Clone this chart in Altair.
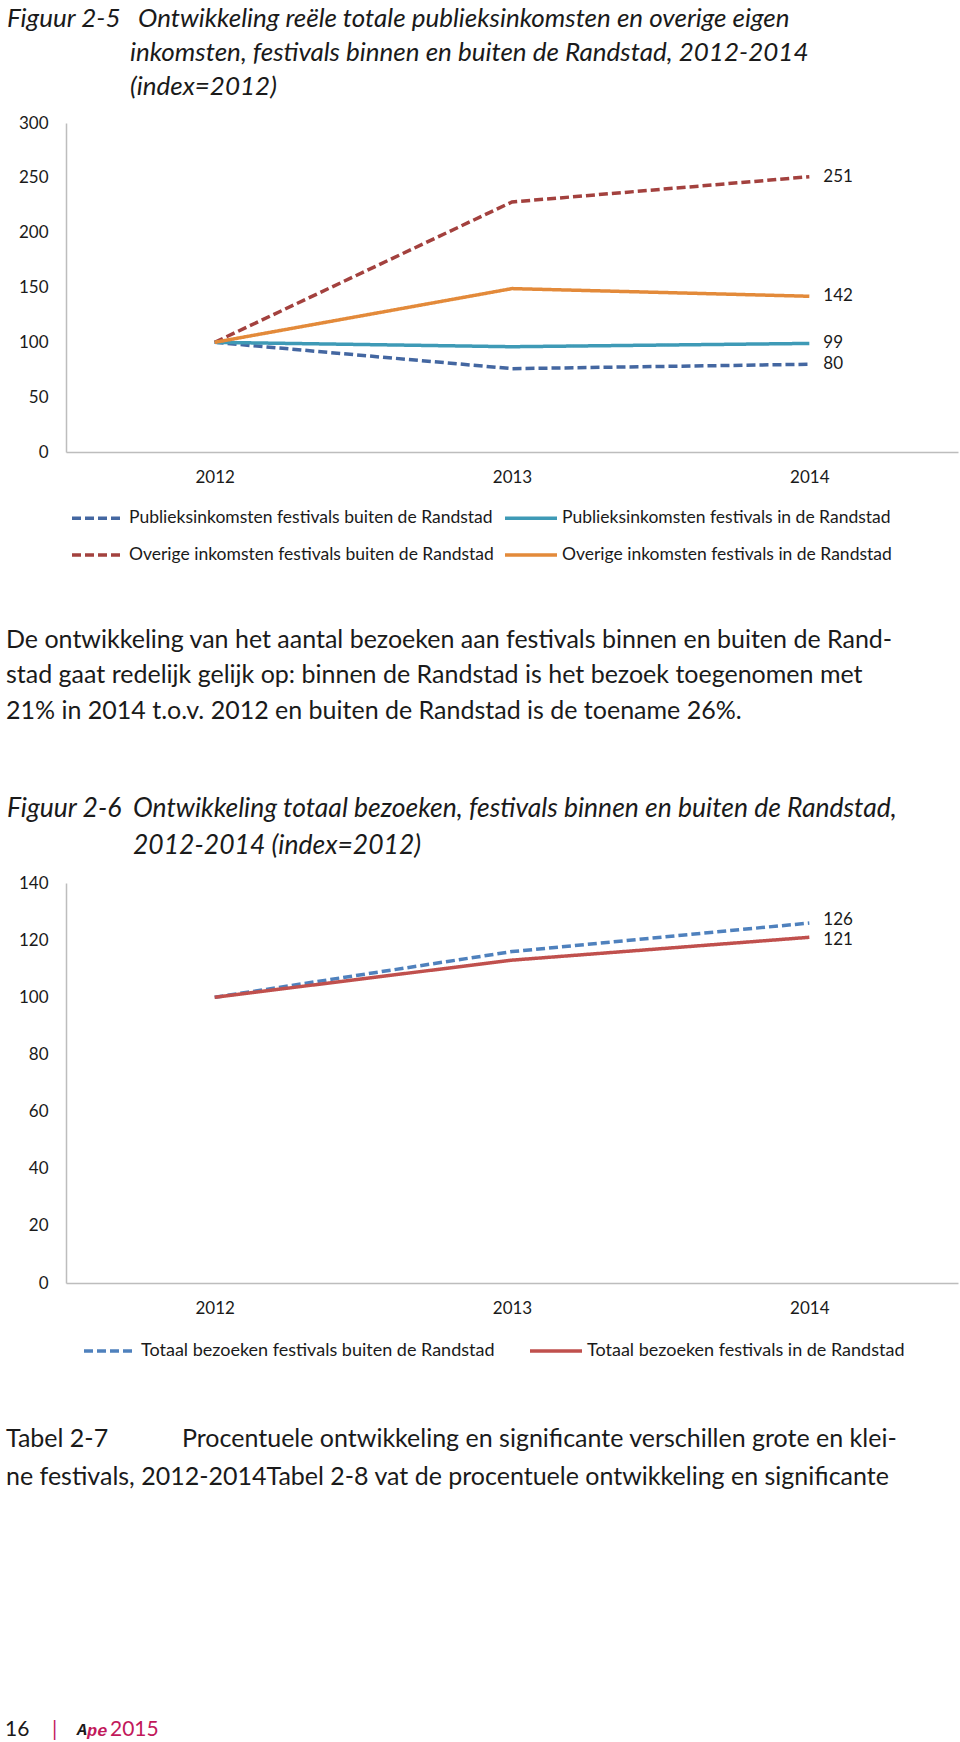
import altair as alt
import pandas as pd

# ---------------- data ----------------
years = ["2012", "2013", "2014"]

f5_series = [
    "Publieksinkomsten festivals buiten de Randstad",
    "Overige inkomsten festivals buiten de Randstad",
    "Publieksinkomsten festivals in de Randstad",
    "Overige inkomsten festivals in de Randstad",
]
f5_pub_buiten = [100, 76, 80]
f5_ov_buiten = [100, 228, 251]
f5_pub_in = [100, 96, 99]
f5_ov_in = [100, 149, 142]
f5_ticks = [0, 50, 100, 150, 200, 250, 300]

f6_series = [
    "Totaal bezoeken festivals buiten de Randstad",
    "Totaal bezoeken festivals in de Randstad",
]
f6_buiten = [100, 116, 126]
f6_in = [100, 113, 121]
f6_ticks = [0, 20, 40, 60, 80, 100, 120, 140]

title5 = ["Figuur 2-5",
          "Ontwikkeling reële totale publieksinkomsten en overige eigen",
          "inkomsten, festivals binnen en buiten de Randstad, 2012-2014",
          "(index=2012)"]
paragraph = ["De ontwikkeling van het aantal bezoeken aan festivals binnen en buiten de Rand-",
             "stad gaat redelijk gelijk op: binnen de Randstad is het bezoek toegenomen met",
             "21% in 2014 t.o.v. 2012 en buiten de Randstad is de toename 26%."]
title6 = ["Figuur 2-6",
          "Ontwikkeling totaal bezoeken, festivals binnen en buiten de Randstad,",
          "2012-2014 (index=2012)"]
tabel = ["Tabel 2-7",
         "Procentuele ontwikkeling en significante verschillen grote en klei-",
         "ne festivals, 2012-2014Tabel 2-8 vat de procentuele ontwikkeling en significante"]
footer = ["16", "|", "A", "pe", "2015"]

# ---------------- styling ----------------
FONT = "Lato"
TXT = "#1a1a1a"
PINK = "#C2185B"
W = 892          # plot width (page x 66 .. 958)
X0 = 66          # page x of the plot origin
f5_colors = ["#4467A1", "#A3413E", "#3E9AB6", "#E38A3A"]
f6_colors = ["#4F81BD", "#C0504D"]
DASH = [9, 4]
SOLID = [1, 0]

rows5 = []
for s, vals in zip(f5_series, [f5_pub_buiten, f5_ov_buiten, f5_pub_in, f5_ov_in]):
    for y, v in zip(years, vals):
        rows5.append({"jaar": y, "reeks": s, "index": v})
df5 = pd.DataFrame(rows5)

rows6 = []
for s, vals in zip(f6_series, [f6_buiten, f6_in]):
    for y, v in zip(years, vals):
        rows6.append({"jaar": y, "reeks6": s, "index": v})
df6 = pd.DataFrame(rows6)

axis_common = dict(labelFont=FONT, labelFontSize=17, labelColor=TXT,
                   domainColor="#BDBDBD", domainWidth=1.5, ticks=False,
                   grid=False, title=None)


def xenc():
    return alt.X("jaar:N", sort=years,
                 scale=alt.Scale(type="point", domain=years, padding=0.5),
                 axis=alt.Axis(labelAngle=0, labelPadding=17, **axis_common))


def yenc(top, ticks):
    return alt.Y("index:Q", scale=alt.Scale(domain=[0, top], nice=False),
                 axis=alt.Axis(values=ticks, labelPadding=18, **axis_common))


# ---------------- chart 2-5 ----------------
leg5 = alt.Legend(orient="none", legendX=4, legendY=367, columns=2,
                  symbolType="stroke", symbolSize=2704, symbolStrokeWidth=3.5,
                  labelFont=FONT, labelFontSize=17.5, labelColor=TXT, labelLimit=0,
                  labelOffset=3, columnPadding=4, rowPadding=0, padding=0,
                  title=None)
base5 = alt.Chart(df5)
lines5 = base5.mark_line(strokeWidth=3.5).encode(
    x=xenc(), y=yenc(300, f5_ticks),
    color=alt.Color("reeks:N", sort=f5_series,
                    scale=alt.Scale(domain=f5_series, range=f5_colors), legend=leg5),
    strokeDash=alt.StrokeDash("reeks:N", sort=f5_series,
                              scale=alt.Scale(domain=f5_series,
                                              range=[DASH, DASH, SOLID, SOLID]),
                              legend=leg5),
)
labels5 = base5.transform_filter(alt.datum.jaar == "2014").mark_text(
    align="left", dx=14, font=FONT, fontSize=17, color=TXT
).encode(x=xenc(), y=yenc(300, f5_ticks), text="index:Q")
chart5 = alt.layer(lines5, labels5).properties(width=W, height=329)

# ---------------- chart 2-6 ----------------
leg6 = alt.Legend(orient="none", legendX=16, legendY=440, direction="horizontal",
                  symbolType="stroke", symbolSize=2704, symbolStrokeWidth=3.5,
                  labelFont=FONT, labelFontSize=18, labelColor=TXT, labelLimit=0,
                  labelOffset=3, columnPadding=28, padding=0, title=None)
base6 = alt.Chart(df6)
lines6 = base6.mark_line(strokeWidth=3.5).encode(
    x=xenc(), y=yenc(140, f6_ticks),
    color=alt.Color("reeks6:N", sort=f6_series,
                    scale=alt.Scale(domain=f6_series, range=f6_colors), legend=leg6),
    strokeDash=alt.StrokeDash("reeks6:N", sort=f6_series,
                              scale=alt.Scale(domain=f6_series, range=[DASH, SOLID]),
                              legend=leg6),
)
end6 = base6.transform_filter(alt.datum.jaar == "2014")
labels6_buiten = end6.transform_filter(alt.datum.reeks6 == f6_series[0]).mark_text(
    align="left", dx=14, dy=-3, font=FONT, fontSize=17, color=TXT
).encode(x=xenc(), y=yenc(140, f6_ticks), text="index:Q")
labels6_in = end6.transform_filter(alt.datum.reeks6 == f6_series[1]).mark_text(
    align="left", dx=14, dy=3, font=FONT, fontSize=17, color=TXT
).encode(x=xenc(), y=yenc(140, f6_ticks), text="index:Q")
chart6 = alt.layer(lines6, labels6_buiten, labels6_in).properties(width=W, height=400)


# ---------------- text panels ----------------
def txt(s, px, py, top, size=25, italic=False, color=TXT, font=FONT, weight="normal"):
    props = dict(text=s, align="left", baseline="middle", font=font,
                 fontSize=size, color=color, fontWeight=weight)
    if italic:
        props["fontStyle"] = "italic"
    return alt.Chart(alt.Data(values=[{}])).mark_text(**props).encode(
        x=alt.value(px - X0), y=alt.value(py - top))


anchor = alt.Chart(alt.Data(values=[{}])).mark_rule(opacity=0, strokeWidth=0).encode(
    x=alt.value(-X0), x2=alt.value(960 - X0), y=alt.value(0))

TS = 26  # caption size
T1 = 0
panel_title5 = alt.layer(
    anchor,
    txt(title5[0], 7, 19, T1, TS, True),
    txt(title5[1], 138, 19, T1, TS, True),
    txt(title5[2], 130, 53, T1, TS, True),
    txt(title5[3], 130, 87, T1, TS, True),
).properties(width=W, height=123)

T2 = 452
panel_mid = alt.layer(
    txt(paragraph[0], 6, 640, T2),
    txt(paragraph[1], 6, 675, T2),
    txt(paragraph[2], 6, 711, T2),
    txt(title6[0], 7, 809, T2, 26.5, True),
    txt(title6[1], 133, 809, T2, 26.5, True),
    txt(title6[2], 133, 846, T2, 26.5, True),
).properties(width=W, height=431)

T3 = 1283
panel_end = alt.layer(
    txt(tabel[0], 6, 1439, T3),
    txt(tabel[1], 182, 1439, T3),
    txt(tabel[2], 6, 1477, T3),
    txt(footer[0], 5, 1730, T3, 21),
    txt(footer[1], 52, 1730, T3, 21, color=PINK),
    txt(footer[2], 77, 1730, T3, 17, True, font="Liberation Mono", weight="bold"),
    txt(footer[3], 87, 1731, T3, 17, True, color=PINK, font="Liberation Mono", weight="bold"),
    txt(footer[4], 110, 1730, T3, 21, color=PINK),
).properties(width=W, height=459)

chart = alt.vconcat(panel_title5, chart5, panel_mid, chart6, panel_end,
                    spacing=0, bounds="flush").resolve_scale(
    x="independent", y="independent", color="independent", strokeDash="independent"
).properties(padding=0).configure_view(stroke=None)

chart.save("out.html", embed_options={"renderer": "svg", "actions": False})
